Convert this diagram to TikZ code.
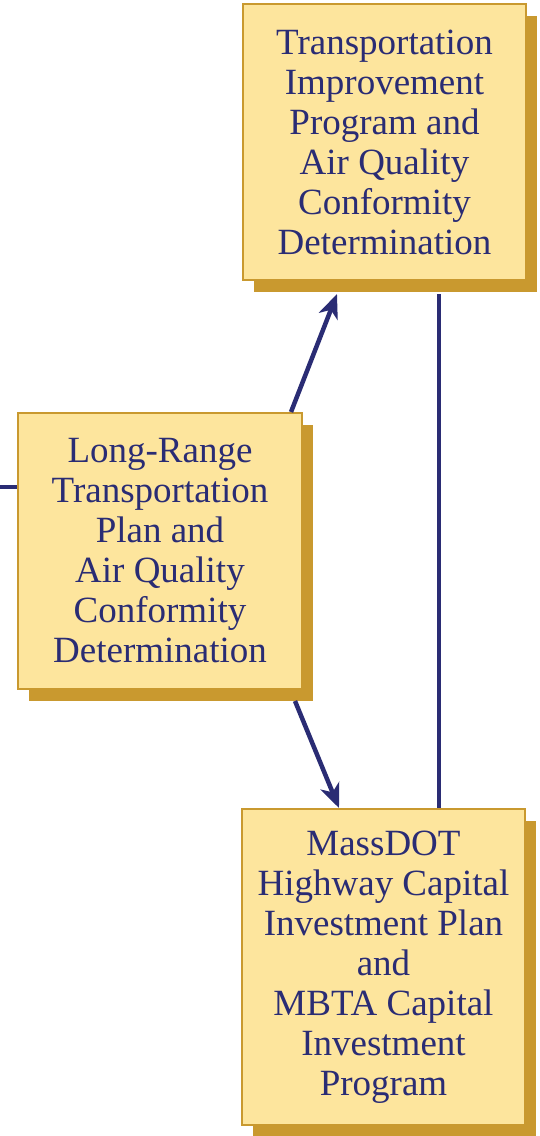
\documentclass[tikz,border=0pt]{standalone}
\usepackage{fontspec}
\setmainfont{Liberation Serif}
\usetikzlibrary{arrows.meta,shadows,calc}
\definecolor{boxfill}{HTML}{FDE59D}
\definecolor{gold}{HTML}{C9992F}
\definecolor{navy}{HTML}{2A2C74}
\begin{document}
\begin{tikzpicture}[x=1pt,y=-1pt,
  stagebox/.style={draw=gold, line width=2pt, fill=boxfill, text=navy,
    align=center, inner sep=0pt,
    font=\fontsize{37}{40}\selectfont,
    drop shadow={shadow xshift=11pt, shadow yshift=-12pt, fill=gold, opacity=1}},
  link/.style={draw=navy, line width=4.5pt},
  arr/.style={link, -{Stealth[length=24pt,width=20pt,inset=7pt]}}]
\useasboundingbox (0,0) rectangle (540,1136);
\node[stagebox, minimum width=283pt, minimum height=276pt] (tip) at (384.5,142)
  {Transportation\\Improvement\\Program and\\Air Quality\\Conformity\\Determination};
\node[stagebox, minimum width=284pt, minimum height=276pt] (lrtp) at (160,551)
  {Long-Range\\Transportation\\Plan and\\Air Quality\\Conformity\\Determination};
\node[stagebox, minimum width=283pt, minimum height=316pt] (cip) at (383.5,967)
  {MassDOT\\Highway Capital\\Investment Plan\\and\\MBTA Capital\\Investment\\Program};
% connectors
\coordinate (lin) at (0,487);
\draw[link] (lin) -- (lin -| lrtp.west);
\coordinate (up1) at ($(lrtp.north west)+(274,0)$);
\coordinate (up2) at ($(tip.south west)+(95,13)$);
\draw[arr] (up1) -- (up2);
\coordinate (dn1) at ($(lrtp.south west)+(278,11)$);
\coordinate (dn2) at ($(cip.north west)+(98,0)$);
\draw[arr] (dn1) -- (dn2);
\coordinate (v1) at ($(tip.south west)+(197,13)$);
\draw[link] (v1) -- (v1 |- cip.north);
\end{tikzpicture}
\end{document}
